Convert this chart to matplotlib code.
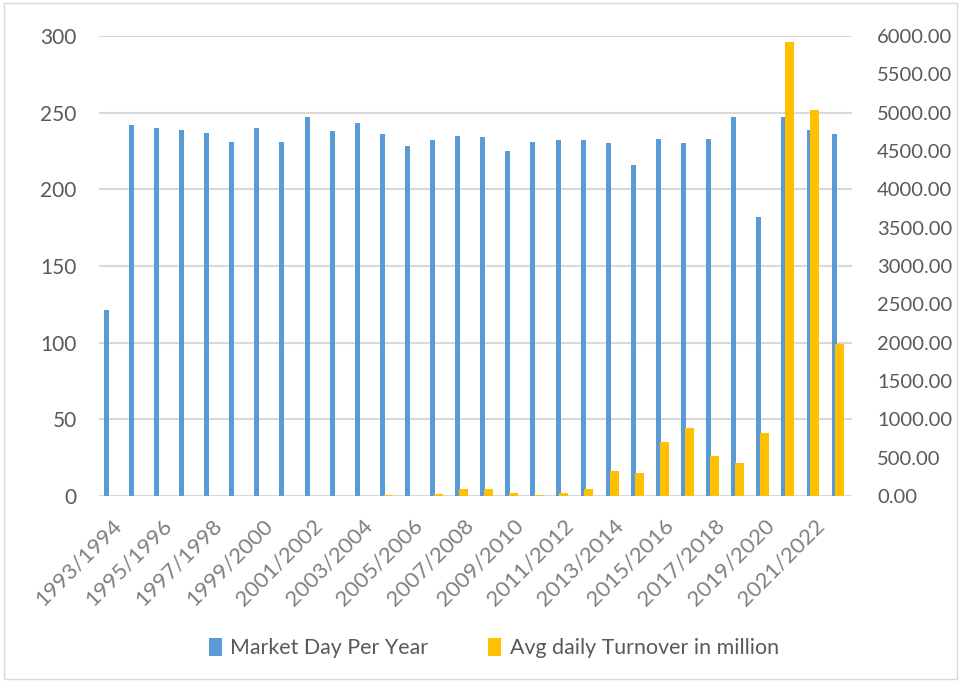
import numpy as np
import matplotlib.pyplot as plt
from matplotlib.patches import Rectangle

plt.rcParams['font.family'] = ['Lato', 'DejaVu Sans']

seasons = [f"{y}/{y + 1}" for y in range(1993, 2023)]

market_days = [121, 242, 240, 239, 237, 231, 240, 231, 247, 238,
               243, 236, 228, 232, 235, 234, 225, 231, 232, 232,
               230, 216, 233, 230, 233, 247, 182, 247, 239, 236]

turnover = [0, 0, 0, 0, 0, 0, 0, 0, 0, 0,
            0, 15, 0, 30, 95, 95, 40, 15, 40, 90,
            326, 300, 704, 887, 522, 430, 822, 5922, 5035, 1983]

blue = '#5b9bd5'
gold = '#ffc000'
grey = '#595959'
grid_c = '#d9d9d9'

fig = plt.figure(figsize=(9.61, 6.82), dpi=100)
ax = fig.add_axes([99 / 961, 1 - 496 / 682, 753 / 961, 460 / 682])
ax2 = ax.twinx()

x = np.arange(len(seasons))
ax.bar(x - 0.21, market_days, width=0.2, color=blue, zorder=3,
       label='Market Day Per Year')
ax2.bar(x + 0.02, turnover, width=0.36, color=gold, zorder=3,
        label='Avg daily Turnover in million')

ax.set_xlim(-0.5, len(seasons) - 0.5)
ax.set_ylim(0, 300)
ax.set_yticks(range(0, 301, 50))
ax2.set_ylim(0, 6000)
ax2.set_yticks(range(0, 6001, 500))
ax2.set_yticklabels([f"{v:.2f}" for v in range(0, 6001, 500)])

ax.grid(axis='y', color=grid_c, linewidth=1.5, zorder=0)
ax.set_axisbelow(True)
for a in (ax, ax2):
    for s in a.spines.values():
        s.set_visible(False)
    a.tick_params(length=0, labelsize=15, colors=grey)
ax.tick_params(axis='y', pad=16)
ax2.tick_params(axis='y', labelsize=14.5, pad=18)

ax.set_xticks(x[::2])
ax.set_xticklabels(seasons[::2], rotation=45, ha='right',
                   rotation_mode='anchor', fontsize=16, color='#808080')
ax.tick_params(axis='x', pad=14)

h1, l1 = ax.get_legend_handles_labels()
h2, l2 = ax2.get_legend_handles_labels()
fig.legend(h1 + h2, l1 + l2, loc='center', bbox_to_anchor=(494 / 961, 1 - 648 / 682),
           ncol=2, frameon=False, fontsize=15.4, labelcolor=grey,
           handlelength=0.6, handleheight=0.9, columnspacing=2.8,
           handletextpad=0.4)

fig.patches.append(Rectangle((0.004, 0.004), 0.992, 0.992, transform=fig.transFigure,
                             fill=False, edgecolor=grid_c, linewidth=1))

fig.savefig('out.png', dpi=100)
